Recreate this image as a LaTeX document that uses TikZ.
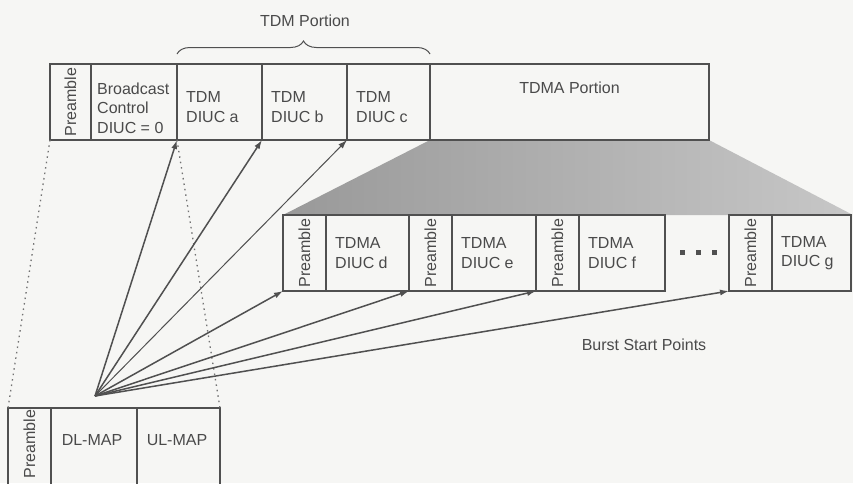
\documentclass[tikz,border=0pt]{standalone}
\usepackage{fontspec}
\setmainfont{Liberation Sans}
\usetikzlibrary{decorations.pathreplacing,arrows.meta}
\definecolor{ln}{HTML}{505050}
\definecolor{tx}{HTML}{4A4A4A}
\definecolor{bg}{HTML}{F6F6F4}
\begin{document}
\begin{tikzpicture}[x=1pt,y=-1pt,
  cell/.style={draw=ln, line width=1.4pt, minimum height=76pt, inner sep=0pt, outer sep=0pt, anchor=north west},
  txt/.style={text=tx, font=\fontsize{16}{19.5}\selectfont, align=left, inner sep=0pt},
  pre/.style={txt, rotate=90},
  arr/.style={draw=ln, line width=1.5pt, -{Latex[length=9pt,width=6pt]}},
  dotline/.style={draw=ln!80, line width=1.3pt, dash pattern=on 1.5pt off 4pt}]
\fill[bg] (0,0) rectangle (853,483);
\useasboundingbox (0,0) rectangle (853,483);

% shaded expansion
\shade[left color=black!40, right color=black!22] (430,140) -- (709,140) -- (853,215) -- (283,215) -- cycle;

% top frame
\node[cell, minimum width=41pt] (tp) at (50,64) {};
\node[cell, minimum width=86pt] (bc) at (91,64) {};
\node[cell, minimum width=85pt] (ta) at (177,64) {};
\node[cell, minimum width=85pt] (tb) at (262,64) {};
\node[cell, minimum width=83pt] (tc) at (347,64) {};
\node[cell, minimum width=279pt] (tm) at (430,64) {};
\node[pre] (tpt) at (tp.center) {Preamble};
\node[txt, anchor=west] (bct) at ([xshift=6pt, yshift=-6pt]bc.west) {Broadcast\\Control\\DIUC = 0};
\node[txt, anchor=west] (tat) at ([xshift=9pt, yshift=-5pt]ta.west) {TDM\\DIUC a};
\node[txt, anchor=west] (tbt) at ([xshift=9pt, yshift=-5pt]tb.west) {TDM\\DIUC b};
\node[txt, anchor=west] (tct) at ([xshift=9pt, yshift=-5pt]tc.west) {TDM\\DIUC c};
\node[txt] (tmt) at ([yshift=14pt]tm.center) {TDMA Portion};

% brace
\draw[decorate, decoration={brace, amplitude=13pt}, draw=ln, line width=1pt] (177,54) -- (430,54);
\node[txt] (tdmp) at (305,21) {TDM Portion};

% lower row
\node[cell, minimum width=43pt] (p1) at (283,215) {};
\node[cell, minimum width=83pt] (dd) at (326,215) {};
\node[cell, minimum width=43pt] (p2) at (409,215) {};
\node[cell, minimum width=84pt] (de) at (452,215) {};
\node[cell, minimum width=43pt] (p3) at (536,215) {};
\node[cell, minimum width=86pt] (df) at (579,215) {};
\node[cell, minimum width=43pt] (p4) at (729,215) {};
\node[cell, minimum width=79pt] (dg) at (772,215) {};
\node[pre] (p1t) at (p1.center) {Preamble};
\node[pre] (p2t) at (p2.center) {Preamble};
\node[pre] (p3t) at (p3.center) {Preamble};
\node[pre] (p4t) at (p4.center) {Preamble};
\node[txt, anchor=west] (ddt) at ([xshift=9pt]dd.west) {TDMA\\DIUC d};
\node[txt, anchor=west] (det) at ([xshift=9pt]de.west) {TDMA\\DIUC e};
\node[txt, anchor=west] (dft) at ([xshift=9pt]df.west) {TDMA\\DIUC f};
\node[txt, anchor=west] (dgt) at ([xshift=9pt]dg.west) {TDMA\\DIUC g};
\fill[ln] (679.5,249.5) rectangle ++(5,5);
\fill[ln] (695.5,249.5) rectangle ++(5,5);
\fill[ln] (711.5,249.5) rectangle ++(5,5);

% bottom frame
\node[cell, minimum width=43pt, minimum height=80pt] (bp) at (8,408) {};
\node[cell, minimum width=86pt, minimum height=80pt] (dl) at (51,408) {};
\node[cell, minimum width=83pt, minimum height=80pt] (ul) at (137,408) {};
\node[pre] (bpt) at ([yshift=4pt]bp.center) {Preamble};
\node[txt] (dlt) at (92,440) {DL-MAP};
\node[txt] (ult) at (177,440) {UL-MAP};

% dotted mapping lines
\draw[dotline] (tp.south west) -- (bp.north west);
\draw[dotline] (bc.south east) -- (ul.north east);

% burst start arrows
\coordinate (o) at (95,396);
\draw[arr] (o) -- (ta.south west);
\draw[arr] (o) -- (tb.south west);
\draw[arr, line width=1pt] (o) -- (tc.south west);
\draw[arr] (o) -- (p1.south west);
\draw[arr] (o) -- (p2.south west);
\draw[arr] (o) -- (p3.south west);
\draw[arr] (o) -- (p4.south west);
\node[txt] (bsp) at (644,345) {Burst Start Points};
\end{tikzpicture}
\end{document}
